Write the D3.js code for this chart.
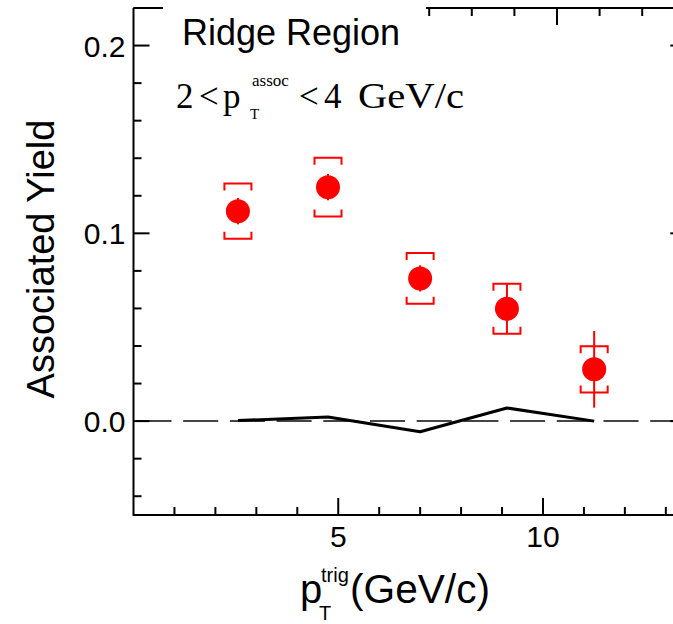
<!DOCTYPE html>
<html>
<head>
<meta charset="utf-8">
<script src="https://cdn.jsdelivr.net/npm/d3@7"></script>
<style>
  html, body { margin: 0; padding: 0; background: #fff; }
  svg { display: block; }
  text { fill: #000; }
</style>
</head>
<body>
<script>
// Trigger-pT bins and ridge-region associated yields
const ptTrig      = [2.55, 4.75, 7.0, 9.12, 11.25];
const yieldVals   = [0.1118, 0.1246, 0.0760, 0.0598, 0.0276];
const statErr     = [0.007, 0.007, 0.007, 0.0133, 0.0204];
const sysErr      = [0.0147, 0.0157, 0.0135, 0.0133, 0.0123];
// Background-subtraction systematic curve
const bgCurve     = [0.0003, 0.0022, -0.0057, 0.0070, 0.0];

const xTicksMajor = [5, 10];
const yTicksMajor = [0.0, 0.1, 0.2];

const W = 673, H = 624;
const svg = d3.select("body").append("svg").attr("width", W).attr("height", H);

const x = d3.scaleLinear().domain([0, 13.5]).range([133.5, 686.3]);
const xTop = d3.scaleLinear().domain([0, 13.5]).range([131, 131 + 13.5 * 42.6]);
const y = d3.scaleLinear().domain([-0.05, 0.22]).range([515, 8]);

const red = "#ff0000";
const axisW = 2;
const sans = "Liberation Sans, Arial, sans-serif";
const serif = "Liberation Serif, Times New Roman, serif";

// Zero reference line (dashed)
svg.append("line")
  .attr("x1", x(0) + 3).attr("x2", W)
  .attr("y1", y(0)).attr("y2", y(0))
  .attr("stroke", "#444").attr("stroke-width", 2)
  .attr("stroke-dasharray", "35,11.7");

// Frame and ticks
const frame = svg.append("g").attr("stroke", "#000").attr("stroke-width", axisW).attr("fill", "none");
frame.append("line").attr("x1", x(0)).attr("x2", x(0)).attr("y1", y(0.22)).attr("y2", y(-0.05) + 1);
frame.append("line").attr("x1", x(0)).attr("x2", W).attr("y1", y(-0.05)).attr("y2", y(-0.05));
frame.append("line").attr("x1", x(0)).attr("x2", W).attr("y1", y(0.22)).attr("y2", y(0.22));
frame.append("line").attr("x1", x(13.5)).attr("x2", x(13.5)).attr("y1", y(0.22)).attr("y2", y(-0.05));

// y ticks (left and right)
const yMinor = d3.range(-0.04, 0.2201, 0.02).map(v => +v.toFixed(2));
yMinor.forEach(v => {
  const major = yTicksMajor.some(t => Math.abs(t - v) < 1e-6);
  const len = major ? 16 : 8;
  frame.append("line").attr("x1", x(0)).attr("x2", x(0) + len).attr("y1", y(v)).attr("y2", y(v));
  frame.append("line").attr("x1", x(13.5)).attr("x2", x(13.5) - len).attr("y1", y(v)).attr("y2", y(v));
});

// x ticks (bottom)
d3.range(1, 14).forEach(v => {
  const major = xTicksMajor.includes(v);
  const len = major ? 17 : 8;
  frame.append("line").attr("x1", x(v)).attr("x2", x(v)).attr("y1", y(-0.05)).attr("y2", y(-0.05) - len);
});
// x ticks (top)
d3.range(1, 14).forEach(v => {
  const major = xTicksMajor.includes(v);
  const len = major ? 17 : 8;
  frame.append("line").attr("x1", xTop(v)).attr("x2", xTop(v)).attr("y1", y(0.22)).attr("y2", y(0.22) + len);
});

// Tick labels
const lab = svg.append("g").attr("font-family", sans).attr("font-size", 30);
yTicksMajor.forEach(v => {
  lab.append("text").attr("x", x(0) - 8).attr("y", y(v) + 11)
    .attr("text-anchor", "end").text(d3.format(".1f")(v));
});
xTicksMajor.forEach(v => {
  lab.append("text").attr("x", x(v)).attr("y", 547)
    .attr("text-anchor", "middle").text(v);
});

// Axis titles
svg.append("text")
  .attr("transform", `translate(54,${259}) rotate(-90)`)
  .attr("text-anchor", "middle")
  .attr("font-family", sans)
  .attr("font-size", 38)
  .text("Associated Yield");

const xt = svg.append("g").attr("font-family", sans);
xt.append("text").attr("x", 300).attr("y", 603).attr("font-size", 40).text("p");
xt.append("text").attr("x", 321).attr("y", 582).attr("font-size", 20).text("trig");
xt.append("text").attr("x", 319).attr("y", 620).attr("font-size", 20).text("T");
xt.append("text").attr("x", 350).attr("y", 603).attr("font-size", 40)
  .attr("textLength", 140).attr("lengthAdjust", "spacingAndGlyphs").text("(GeV/c)");

// Background curve
svg.append("path")
  .datum(ptTrig.map((p, i) => [p, bgCurve[i]]))
  .attr("fill", "none").attr("stroke", "#000").attr("stroke-width", 3)
  .attr("stroke-linejoin", "round")
  .attr("d", d3.line().x(d => x(d[0])).y(d => y(d[1])));

// Data points with statistical bars and systematic brackets
const pts = svg.append("g");
ptTrig.forEach((p, i) => {
  const cx = x(p), v = yieldVals[i];
  pts.append("line")
    .attr("x1", cx).attr("x2", cx)
    .attr("y1", y(v + statErr[i])).attr("y2", y(v - statErr[i]))
    .attr("stroke", red).attr("stroke-width", 2);
  const hw = 13.5, arm = 7;
  const yt = y(v + sysErr[i]), yb = y(v - sysErr[i]);
  pts.append("path")
    .attr("d", `M${cx - hw},${yt + arm}V${yt}H${cx + hw}V${yt + arm}`)
    .attr("fill", "none").attr("stroke", red).attr("stroke-width", 2);
  pts.append("path")
    .attr("d", `M${cx - hw},${yb - arm}V${yb}H${cx + hw}V${yb - arm}`)
    .attr("fill", "none").attr("stroke", red).attr("stroke-width", 2);
  pts.append("circle").attr("cx", cx).attr("cy", y(v)).attr("r", 12).attr("fill", red);
});

// Panel annotations
svg.append("rect").attr("x", 163).attr("y", 0).attr("width", 263).attr("height", 30).attr("fill", "#fff");
svg.append("text")
  .attr("x", 182).attr("y", 45)
  .attr("font-family", sans)
  .attr("font-size", 36)
  .text("Ridge Region");

const sel = svg.append("g").attr("font-family", serif).attr("font-size", 35);
sel.append("text").attr("x", 176).attr("y", 108).text("2");
sel.append("text").attr("x", 199).attr("y", 108).text("<");
sel.append("text").attr("x", 223).attr("y", 108).text("p");
sel.append("text").attr("x", 252).attr("y", 86).attr("font-size", 17).text("assoc");
sel.append("text").attr("x", 250).attr("y", 119).attr("font-size", 15).text("T");
sel.append("text").attr("x", 299).attr("y", 108).text("<");
sel.append("text").attr("x", 324).attr("y", 108).text("4");
sel.append("text").attr("x", 358).attr("y", 108)
  .attr("textLength", 106).attr("lengthAdjust", "spacingAndGlyphs").text("GeV/c");
</script>
</body>
</html>
